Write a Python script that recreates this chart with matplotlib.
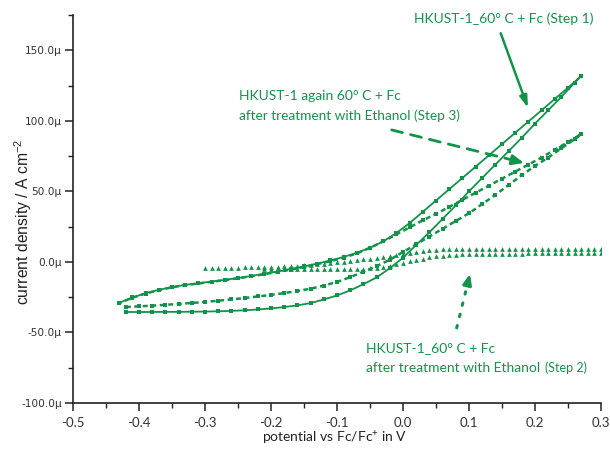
import numpy as np
import matplotlib
matplotlib.use("Agg")
import matplotlib.pyplot as plt
from matplotlib.ticker import MultipleLocator, FuncFormatter

# ---------------- data (current density in µA cm^-2) ----------------
# Step 1: HKUST-1_60°C + Fc
step1_fwd_x = np.append(np.round(np.arange(-0.42, 0.2601, 0.02), 2), 0.27)
step1_fwd_y = [-35.5, -35.5, -35.5, -35.4, -35.4, -35.3, -35.2, -35.0, -34.7, -34.3,
               -33.7, -33.0, -32.0, -30.8, -29.2, -26.6, -23.8, -20.2, -15.8, -11.0,
               -4.5, 3.0, 12.0, 21.0, 30.5, 40.0, 50.0, 59.5, 69.0, 78.5,
               88.0, 98.0, 107.5, 117.0, 127.0, 131.7]
step1_rev_x = np.round(np.arange(0.27, -0.4301, -0.02), 2)
step1_rev_y = [131.7, 123.5, 115.5, 107.5, 99.5, 91.5, 83.5, 75.5, 67.5, 59.5,
               51.5, 43.5, 35.5, 27.5, 20.5, 14.5, 10.0, 6.5, 3.5, 1.0,
               -1.2, -3.2, -5.0, -6.8, -8.4, -10.0, -11.4, -12.7, -13.9, -15.1,
               -16.3, -17.8, -19.8, -22.2, -25.2, -29.0]

# Step 3: HKUST-1 again 60°C + Fc after treatment with Ethanol
step3_fwd_x = np.append(np.round(np.arange(-0.42, 0.2601, 0.02), 2), 0.27)
step3_fwd_y = [-32.0, -31.5, -31.0, -30.4, -29.8, -29.1, -28.4, -27.5, -26.6, -25.6,
               -24.5, -23.4, -22.1, -20.6, -19.0, -16.8, -14.2, -10.8, -7.0, -3.0,
               1.5, 7.0, 12.5, 18.0, 23.5, 29.0, 34.5, 41.0, 47.5, 54.5,
               61.5, 68.0, 74.0, 80.5, 87.0, 90.5]
step3_rev_x = np.round(np.arange(0.27, -0.4301, -0.02), 2)
step3_rev_y = [90.5, 85.0, 79.5, 74.0, 69.0, 64.0, 59.0, 54.0, 49.0, 44.0,
               39.0, 34.0, 29.5, 24.5, 19.5, 14.5, 10.0, 6.0, 3.0, 0.5,
               -1.6, -3.6, -5.4, -7.1, -8.7, -10.2, -11.6, -12.9, -14.1, -15.3,
               -16.5, -18.0, -20.0, -22.4, -25.4, -29.2]

# Step 2: HKUST-1_60°C + Fc after treatment with Ethanol
step2_fwd_x = np.round(np.arange(-0.21, 0.3001, 0.01), 2)
step2_fwd_y = [-4.8, -4.9, -5.0, -5.0, -5.1, -5.1, -5.2, -5.2, -5.2, -5.2,
               -5.2, -5.1, -5.1, -5.0, -4.9, -4.7, -4.4, -4.0, -3.4, -2.6,
               -1.6, -0.6, 0.5, 1.5, 2.4, 3.2, 3.9, 4.4, 4.8, 5.1,
               5.3, 5.5, 5.6, 5.6, 5.7, 5.7, 5.8, 5.8, 5.9, 5.9,
               6.0, 6.0, 6.1, 6.1, 6.2, 6.2, 6.3, 6.3, 6.4, 6.4,
               6.5, 6.5]
step2_rev_x = np.round(np.arange(-0.30, 0.3001, 0.01), 2)
step2_rev_y = [-4.2, -4.2, -4.1, -4.1, -4.0, -4.0, -3.9, -3.9, -3.8, -3.7,
               -3.6, -3.4, -3.2, -3.0, -2.7, -2.4, -2.0, -1.6, -1.2, -0.8,
               -0.3, 0.2, 0.7, 1.2, 1.8, 2.4, 3.0, 3.7, 4.4, 5.1,
               5.8, 6.5, 7.2, 7.8, 8.3, 8.7, 9.0, 9.2, 9.4, 9.5,
               9.5, 9.5, 9.5, 9.5, 9.4, 9.4, 9.4, 9.3, 9.3, 9.3,
               9.2, 9.2, 9.2, 9.1, 9.1, 9.1, 9.0, 9.0, 9.0, 8.9,
               8.9]

x_ticks = [-0.5, -0.4, -0.3, -0.2, -0.1, 0.0, 0.1, 0.2, 0.3]
y_ticks = [-100, -50, 0, 50, 100, 150]

# ---------------- style ----------------
GREEN = "#12934a"
TXT_FONT = ["Lato", "DejaVu Sans"]
plt.rcParams["mathtext.default"] = "regular"

fig = plt.figure(figsize=(6.1, 4.51), dpi=100)
ax = fig.add_axes([73 / 610, 48 / 451, 528 / 610, 388 / 451])

ax.plot(np.concatenate([step1_fwd_x, step1_rev_x]),
        np.concatenate([step1_fwd_y, step1_rev_y]),
        color=GREEN, lw=1.3, marker="s", ms=2.5, mew=0, zorder=3)
ax.plot(np.concatenate([step3_fwd_x, step3_rev_x]),
        np.concatenate([step3_fwd_y, step3_rev_y]),
        color=GREEN, lw=1.8, ls=(0, (2.0, 1.4)), marker="s", ms=2.6, mew=0, zorder=3)
ax.plot(step2_fwd_x, step2_fwd_y, ls="none", color=GREEN, marker="^", ms=3.4, mew=0, zorder=3)
ax.plot(step2_rev_x, step2_rev_y, ls="none", color=GREEN, marker="^", ms=3.4, mew=0, zorder=3)

ax.set_xlim(-0.5, 0.3)
ax.set_ylim(-100, 175)
for s in ["top", "right"]:
    ax.spines[s].set_visible(False)
for s in ["left", "bottom"]:
    ax.spines[s].set_linewidth(1.2)
    ax.spines[s].set_color("#222222")

ax.set_xticks(x_ticks)
ax.set_yticks(y_ticks)
ax.xaxis.set_minor_locator(MultipleLocator(0.05))
ax.yaxis.set_minor_locator(MultipleLocator(25))
ax.tick_params(which="major", direction="out", length=6, width=1.1, color="#222222")
ax.tick_params(which="minor", direction="out", length=3.5, width=1.0, color="#222222")
ax.xaxis.set_major_formatter(FuncFormatter(lambda v, p: f"{v:.1f}"))
ax.yaxis.set_major_formatter(FuncFormatter(lambda v, p: f"{v:.1f}\u00b5"))
for lab in ax.get_yticklabels():
    lab.set_fontfamily("DejaVu Sans")
    lab.set_fontsize(7.6)
    lab.set_color("#333333")
for lab in ax.get_xticklabels():
    lab.set_fontfamily(TXT_FONT)
    lab.set_fontsize(9.5)
    lab.set_color("#333333")
ax.tick_params(axis="x", pad=4)
ax.tick_params(axis="y", pad=2)

ax.set_ylabel("current density / A cm$^{-2}$", fontfamily="Liberation Sans",
              fontsize=11.3, color="#222222", va="center")
ax.yaxis.set_label_coords((23 - 73) / 528, (403 - 222) / 388)
ax.set_xlabel("potential vs Fc/Fc$^{+}$ in V", fontfamily=TXT_FONT,
              fontsize=10, color="#222222", va="center")
ax.xaxis.set_label_coords((335 - 73) / 528, (403 - 438) / 388)

# ---------------- annotations ----------------
def px2d(px, py):
    return ((px - 73) / 660 - 0.5, (262 - py) / 1.411)

def arrow(start, tip, ls, lw, head_len_px, hw, hl):
    s = px2d(*start)
    t = px2d(*tip)
    dx, dy = tip[0] - start[0], tip[1] - start[1]
    L = np.hypot(dx, dy)
    back = (tip[0] - dx / L * head_len_px, tip[1] - dy / L * head_len_px)
    b = px2d(*back)
    ax.annotate("", xy=b, xytext=s,
                arrowprops=dict(arrowstyle="-", lw=lw, ls=ls, color=GREEN,
                                shrinkA=0, shrinkB=0), zorder=5)
    ax.annotate("", xy=t, xytext=b,
                arrowprops=dict(arrowstyle=f"-|>,head_length={hl},head_width={hw}",
                                lw=lw, color=GREEN, shrinkA=0, shrinkB=0), zorder=5)

arrow((500.7, 33.3), (528, 108), "-", 1.8, 10, 0.22, 0.7)
arrow((391.7, 130), (524, 163), (0, (4, 3)), 2.0, 10, 0.3, 0.7)
arrow((456.7, 328), (470, 274), (0, (0.8, 3)), 2.2, 8, 0.25, 0.6)

tk = dict(color=GREEN, fontfamily=TXT_FONT, zorder=6)
ax.text(*px2d(504, 19), "HKUST-1_60° C + Fc (Step 1)", ha="center", va="center",
        fontsize=10, **tk)
ax.text(*px2d(239, 96.5), "HKUST-1 again 60° C + Fc", ha="left", va="center",
        fontsize=10, **tk)
ax.text(*px2d(239, 116), "after treatment with Ethanol (Step 3)", ha="left", va="center",
        fontsize=9.8, **tk)
ax.text(*px2d(366.5, 348), "HKUST-1_60° C + Fc", ha="left", va="center",
        fontsize=10, **tk)
t2 = ax.text(*px2d(366.5, 368), "after treatment with Ethanol", ha="left", va="center",
             fontsize=10, **tk)
ax.annotate("(Step 2)", xy=(1, 0.5), xycoords=t2, xytext=(3, 0),
            textcoords="offset points", ha="left", va="center", fontsize=9,
            **tk)

fig.savefig("out.png", dpi=100)
